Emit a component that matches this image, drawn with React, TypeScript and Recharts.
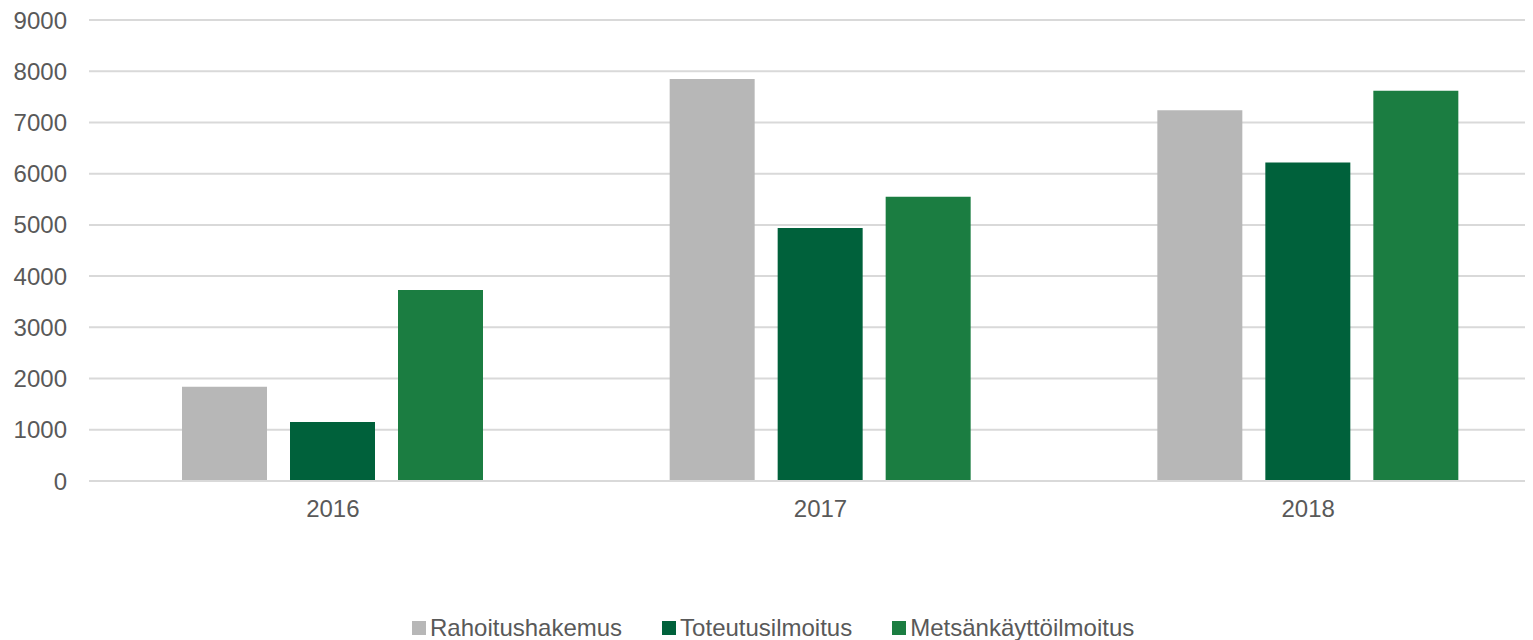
import React from 'react';
import { BarChart, Bar, XAxis, YAxis, CartesianGrid, Legend } from 'recharts';

// values
const years = ['2016', '2017', '2018'];
const rahoitushakemus = [1840, 7850, 7240];
const toteutusilmoitus = [1150, 4940, 6220];
const metsankayttoilmoitus = [3730, 5550, 7620];
const yTicks = [0, 1000, 2000, 3000, 4000, 5000, 6000, 7000, 8000, 9000];

const series = [
  { key: 'Rahoitushakemus', color: '#b7b7b7' },
  { key: 'Toteutusilmoitus', color: '#00613b' },
  { key: 'Metsänkäyttöilmoitus', color: '#1b7d41' },
];

const data = years.map((year, i) => ({
  year,
  Rahoitushakemus: rahoitushakemus[i],
  Toteutusilmoitus: toteutusilmoitus[i],
  'Metsänkäyttöilmoitus': metsankayttoilmoitus[i],
}));

const FONT = '"Liberation Sans", Arial, sans-serif';
const TEXT = '#595959';
const GRID = '#d9d9d9';

const renderLegend = () => (
  <div style={{ display: 'flex', alignItems: 'center', height: 30, fontFamily: FONT, fontSize: 24, color: TEXT }}>
    {series.map((s, i) => (
      <div key={s.key} style={{ display: 'flex', alignItems: 'center', marginRight: i < series.length - 1 ? 40 : 0 }}>
        <span style={{ display: 'inline-block', width: 14, height: 14, background: s.color, marginRight: 4 }} />
        <span>{s.key}</span>
      </div>
    ))}
  </div>
);

export default function App() {
  // negative margin cancels the body margin; the plot runs past the right edge like the original crop
  return (
    <div style={{ margin: -8, width: 1533, height: 648, overflow: 'hidden', position: 'relative', background: '#fff' }}>
      <BarChart
        width={1552}
        height={640}
        data={data}
        margin={{ top: 20, right: 0, bottom: 0, left: 0 }}
        barGap={23}
        barSize={85}
      >
        <CartesianGrid vertical={false} stroke={GRID} strokeWidth={2} />
        <XAxis
          dataKey="year"
          height={129}
          tickLine={false}
          tickSize={0}
          tickMargin={19}
          axisLine={{ stroke: GRID, strokeWidth: 2 }}
          tick={{ fill: TEXT, fontSize: 24, fontFamily: FONT }}
        />
        <YAxis
          width={89}
          domain={[0, 9000]}
          ticks={yTicks}
          axisLine={false}
          tickLine={false}
          tickSize={0}
          tickMargin={22}
          tick={{ fill: TEXT, fontSize: 24, fontFamily: FONT }}
        />
        <Legend
          verticalAlign="bottom"
          content={renderLegend}
          wrapperStyle={{ left: 412, top: 613, width: 'auto' }}
        />
        {series.map((s) => (
          <Bar key={s.key} dataKey={s.key} fill={s.color} isAnimationActive={false} />
        ))}
      </BarChart>
    </div>
  );
}
